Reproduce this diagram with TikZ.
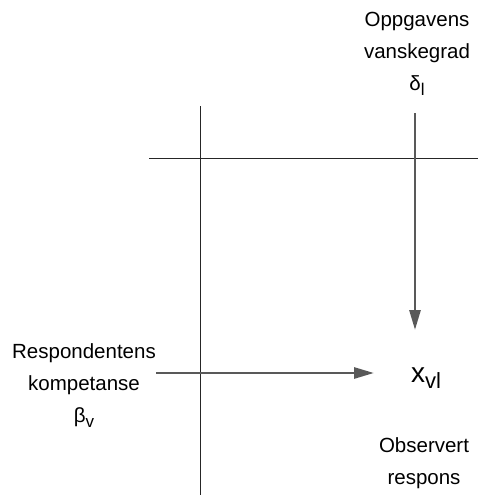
\documentclass[tikz,border=0pt]{standalone}
\usepackage{fontspec}
\setmainfont{Liberation Sans}
\usetikzlibrary{arrows.meta}
\newcommand{\lowsub}[2]{\raisebox{-0.45ex}{\fontsize{#1}{#1}\selectfont #2}}
\begin{document}
\begin{tikzpicture}[x=1pt,y=-1pt,
  lbl/.style={align=center,font=\fontsize{20.5}{32}\selectfont,inner sep=0pt},
  thinline/.style={line width=1pt,black!85},
  arr/.style={line width=2.8pt,black!65,-{Triangle[length=20pt,width=11pt]}}]
\useasboundingbox (0,0) rectangle (478,495);
\coordinate (vtop) at (200,106);
\coordinate (vbot) at (200,495);
\coordinate (hl) at (149,158);
\coordinate (hr) at (478,158);
\draw[thinline] (vtop) -- (vbot);
\draw[thinline] (hl) -- (hr);
\node[lbl] (delta) at (417,54) {Oppgavens\\vanskegrad\\δ\lowsub{17}{l}};
\node[lbl] (beta) at (84,386) {Respondentens\\kompetanse\\β\lowsub{17}{v}};
\node[inner sep=0pt,font=\fontsize{28}{28}\selectfont] (x) at (426,378) {x\lowsub{22}{vl}};
\node[lbl] (obs) at (424,463) {Observert\\respons};
\coordinate (va) at (415,113);
\coordinate (vb) at (415,330);
\coordinate (ha) at (156,373);
\coordinate (hb) at (374,373);
\draw[arr] (va) -- (vb);
\draw[arr] (ha) -- (hb);
\end{tikzpicture}
\end{document}
